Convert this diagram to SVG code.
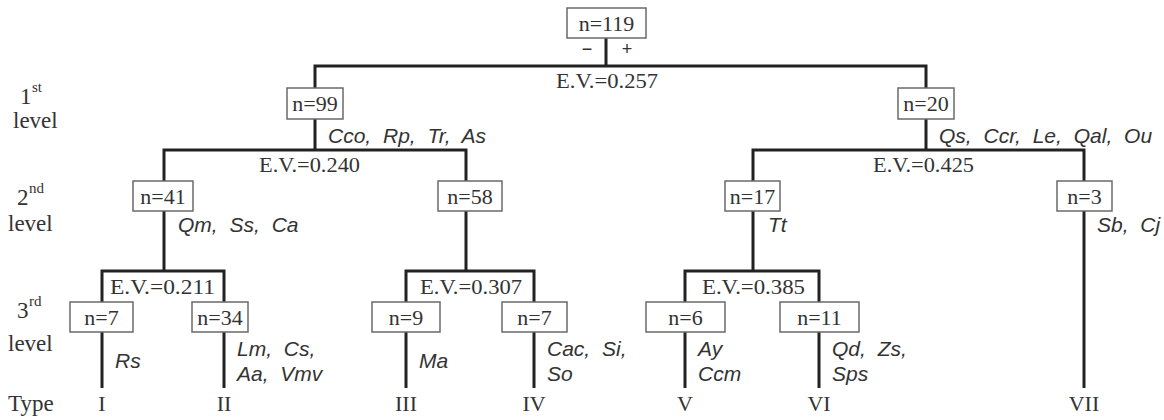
<svg xmlns="http://www.w3.org/2000/svg" width="1164" height="420" viewBox="0 0 1164 420">
<style>
.bg{fill:#fff}
.box{fill:#fff;stroke:#6a6a6a;stroke-width:1.5}
.n{font-family:"Liberation Serif",serif;font-size:22px;fill:#333;text-anchor:middle}
.ev{font-family:"Liberation Serif",serif;font-size:21px;fill:#333}
.lv{font-family:"Liberation Serif",serif;font-size:23px;fill:#333}
.sup{font-family:"Liberation Serif",serif;font-size:15px;fill:#333}
.sp{font-family:"Liberation Sans",sans-serif;font-style:italic;font-size:21px;fill:#333;word-spacing:6px}
.ty{font-family:"Liberation Serif",serif;font-size:22px;fill:#333;text-anchor:middle}
.pm{font-family:"Liberation Sans",sans-serif;font-size:18px;fill:#333;text-anchor:middle}
.ln{fill:none;stroke:#222;stroke-width:3}
</style>
<rect class="bg" x="0" y="0" width="1164" height="420"/>
<g id="connectors">
<path class="ln" d="M606,38 V66 M315,88 V66 H926 V88"/>
<path class="ln" d="M315,119 V150 M164,181 V150 H466 V181"/>
<path class="ln" d="M926,119 V150 M753,181 V150 H1084 V181"/>
<path class="ln" d="M164,211 V271 M102,302 V271 H224 V302"/>
<path class="ln" d="M466,211 V271 M406,302 V271 H534 V302"/>
<path class="ln" d="M753,211 V271 M685,302 V271 H819 V302"/>
<path class="ln" d="M1084,211 V388"/>
<path class="ln" d="M102,332 V388 M224,332 V388 M406,332 V388 M534,332 V388 M685,332 V388 M819,332 V388"/>
</g>
<g id="labels-levels">
<text class="lv" x="20" y="104">1</text><text class="sup" x="32" y="92">st</text>
<text class="lv" x="13" y="128">level</text>
<text class="lv" x="17" y="205">2</text><text class="sup" x="29" y="193">nd</text>
<text class="lv" x="8" y="231">level</text>
<text class="lv" x="17" y="318">3</text><text class="sup" x="29" y="306">rd</text>
<text class="lv" x="8" y="351">level</text>
<text class="lv" x="8" y="411">Type</text>
</g>
<g id="node-root">
<rect class="box" x="567" y="8" width="79" height="30"/>
<text class="n" x="606.5" y="31">n=119</text>
<text class="pm" x="587" y="55">−</text>
<text class="pm" x="627" y="55">+</text>
<text class="ev" x="556" y="88" textLength="102" lengthAdjust="spacingAndGlyphs">E.V.=0.257</text>
</g>
<g id="node-n99">
<rect class="box" x="287" y="88" width="56" height="31"/>
<text class="n" x="315" y="111">n=99</text>
<text class="sp" x="328" y="143">Cco, Rp, Tr, As</text>
<text class="ev" x="259" y="172" textLength="101" lengthAdjust="spacingAndGlyphs">E.V.=0.240</text>
</g>
<g id="node-n20">
<rect class="box" x="898" y="88" width="56" height="31"/>
<text class="n" x="926" y="111">n=20</text>
<text class="sp" x="939" y="143">Qs, Ccr, Le, Qal, Ou</text>
<text class="ev" x="873" y="172" textLength="101" lengthAdjust="spacingAndGlyphs">E.V.=0.425</text>
</g>
<g id="node-n41">
<rect class="box" x="133" y="181" width="60" height="30"/>
<text class="n" x="163" y="204">n=41</text>
<text class="sp" x="178" y="232">Qm, Ss, Ca</text>
<text class="ev" x="110" y="294" textLength="105" lengthAdjust="spacingAndGlyphs">E.V.=0.211</text>
</g>
<g id="node-n58">
<rect class="box" x="438" y="181" width="64" height="30"/>
<text class="n" x="470" y="204">n=58</text>
<text class="ev" x="420" y="294" textLength="102" lengthAdjust="spacingAndGlyphs">E.V.=0.307</text>
</g>
<g id="node-n17">
<rect class="box" x="725" y="181" width="55" height="30"/>
<text class="n" x="752.5" y="204">n=17</text>
<text class="sp" x="768" y="232">Tt</text>
<text class="ev" x="702" y="294" textLength="103" lengthAdjust="spacingAndGlyphs">E.V.=0.385</text>
</g>
<g id="node-n3">
<rect class="box" x="1057" y="181" width="55" height="30"/>
<text class="n" x="1084.5" y="204">n=3</text>
<text class="sp" x="1097" y="232">Sb, Cj</text>
</g>
<g id="node-I">
<rect class="box" x="70" y="302" width="63" height="30"/>
<text class="n" x="101.5" y="325">n=7</text>
<text class="sp" x="115" y="368">Rs</text>
<text class="ty" x="102" y="411">I</text>
</g>
<g id="node-II">
<rect class="box" x="192" y="302" width="56" height="30"/>
<text class="n" x="220" y="325">n=34</text>
<text class="sp" x="237" y="356">Lm, Cs,</text>
<text class="sp" x="237" y="381">Aa, Vmv</text>
<text class="ty" x="224" y="411">II</text>
</g>
<g id="node-III">
<rect class="box" x="372" y="302" width="68" height="30"/>
<text class="n" x="406" y="325">n=9</text>
<text class="sp" x="419" y="368">Ma</text>
<text class="ty" x="406" y="411">III</text>
</g>
<g id="node-IV">
<rect class="box" x="502" y="302" width="65" height="30"/>
<text class="n" x="534.5" y="325">n=7</text>
<text class="sp" x="547" y="356">Cac, Si,</text>
<text class="sp" x="547" y="381">So</text>
<text class="ty" x="534" y="411">IV</text>
</g>
<g id="node-V">
<rect class="box" x="646" y="302" width="79" height="30"/>
<text class="n" x="685.5" y="325">n=6</text>
<text class="sp" x="698" y="356">Ay</text>
<text class="sp" x="698" y="381">Ccm</text>
<text class="ty" x="685" y="411">V</text>
</g>
<g id="node-VI">
<rect class="box" x="780" y="302" width="79" height="30"/>
<text class="n" x="819.5" y="325">n=11</text>
<text class="sp" x="832" y="356">Qd, Zs,</text>
<text class="sp" x="832" y="381">Sps</text>
<text class="ty" x="819" y="411">VI</text>
</g>
<g id="node-VII">
<text class="ty" x="1084" y="411">VII</text>
</g>
</svg>
